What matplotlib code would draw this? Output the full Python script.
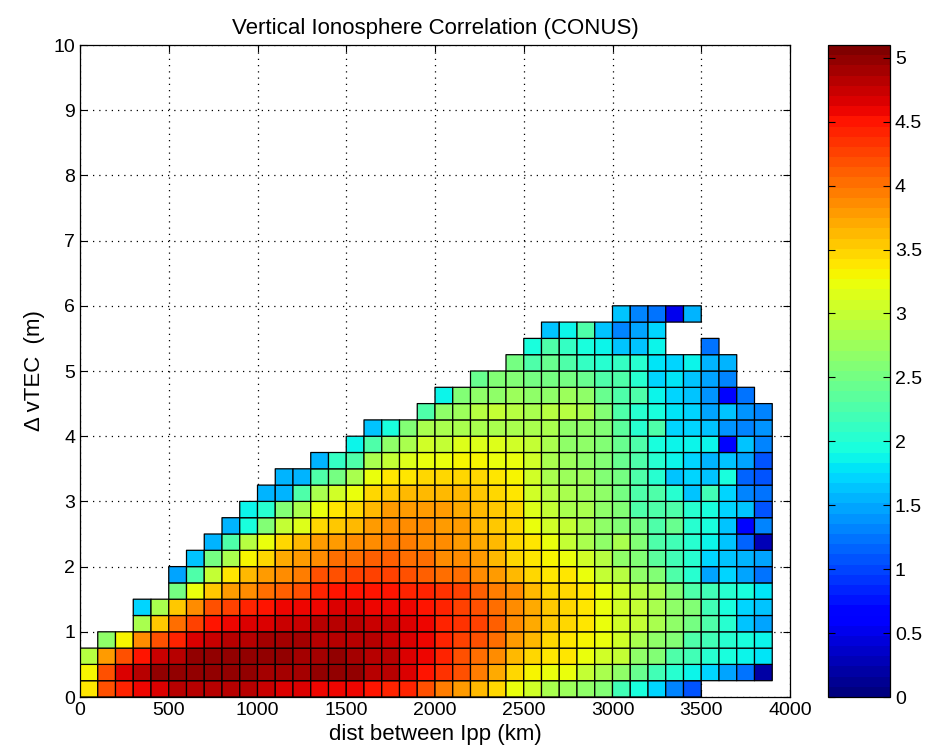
import numpy as np
import matplotlib
matplotlib.use("Agg")
import matplotlib.pyplot as plt
from matplotlib.ticker import FormatStrFormatter

plt.rcParams["font.family"] = ["Liberation Sans", "DejaVu Sans"]

N = None

# bin edges: distance between IPPs (km) and delta vTEC (m)
dist_edges = list(range(0, 4000, 100))          # 0 .. 3900
dvtec_edges = [i * 0.25 for i in range(25)]      # 0 .. 6.0

# cell values, one list per delta-vTEC band (bottom edge in the name), 39 distance bins each
dv_000 = [3.35, 4.2, 4.45, 4.6, 4.7, 4.8, 4.85, 4.8, 4.8, 4.8, 4.75, 4.7, 4.7, 4.6, 4.6, 4.55, 4.5, 4.45, 4.4, 4.2,
          3.95, 3.8, 3.65, 3.5, 3.25, 3.05, 2.85, 2.75, 2.7, 2.6, 2.2, 1.95, 1.7, 1.3, 1.05] + [N] * 4
dv_025 = [3.3, 4.2, 4.7, 4.85, 4.95, 5.0, 5.0, 5.0, 4.95, 4.95, 4.9, 4.9, 4.9, 4.95, 5.0, 4.95, 4.85, 4.8, 4.7, 4.5,
          4.35, 4.15, 3.95, 3.7, 3.45, 3.3, 3.2, 3.2, 3.0, 2.85, 2.65, 2.45, 2.2, 2.0, 1.9, 1.7, 1.5, 1.2, 0.2]
dv_050 = [2.9, 3.8, 4.2, 4.5, 4.75, 4.85, 4.95, 5.0, 5.0, 5.0, 4.95, 4.95, 4.9, 4.9, 4.95, 4.9, 4.85, 4.8, 4.7, 4.55,
          4.4, 4.2, 4.05, 3.85, 3.65, 3.5, 3.4, 3.35, 3.25, 3.1, 2.95, 2.7, 2.55, 2.3, 2.2, 2.0, 1.95, 1.9, 1.8]
dv_075 = [N, 2.65, 3.3, 3.85, 4.2, 4.4, 4.65, 4.75, 4.8, 4.85, 4.9, 4.9, 4.9, 4.85, 4.85, 4.85, 4.8, 4.75, 4.7, 4.55,
          4.45, 4.3, 4.2, 4.0, 3.75, 3.6, 3.5, 3.4, 3.3, 3.2, 3.05, 2.85, 2.7, 2.55, 2.3, 2.2, 2.0, 1.95, 1.85]
dv_100 = [N] * 3 + [2.85, 3.55, 4.0, 4.3, 4.5, 4.55, 4.65, 4.7, 4.75, 4.75, 4.8, 4.8, 4.8, 4.75, 4.75, 4.7, 4.55,
                    4.45, 4.35, 4.25, 4.1, 3.9, 3.7, 3.55, 3.45, 3.35, 3.25, 3.1, 2.95, 2.85, 2.65, 2.5, 2.25, 2.0,
                    1.65, 1.45]
dv_125 = [N] * 3 + [1.7, 2.85, 3.55, 3.9, 4.15, 4.3, 4.4, 4.5, 4.55, 4.55, 4.6, 4.65, 4.65, 4.6, 4.6, 4.55, 4.5,
                    4.4, 4.3, 4.15, 4.05, 3.9, 3.7, 3.55, 3.5, 3.35, 3.2, 3.1, 3.0, 2.85, 2.65, 2.55, 2.2, 1.95,
                    1.75, 1.6]
dv_150 = [N] * 5 + [2.5, 3.2, 3.55, 3.75, 3.9, 4.05, 4.1, 4.2, 4.4, 4.5, 4.5, 4.5, 4.5, 4.45, 4.4, 4.35, 4.25,
                    4.1, 3.95, 3.85, 3.65, 3.5, 3.45, 3.35, 3.2, 3.1, 2.9, 2.8, 2.6, 2.3, 2.2, 2.0, 1.95, 1.8]
dv_175 = [N] * 5 + [1.5, 2.3, 2.95, 3.4, 3.6, 3.75, 3.85, 3.95, 4.15, 4.2, 4.25, 4.25, 4.25, 4.15, 4.1, 4.05, 4.0,
                    3.9, 3.8, 3.65, 3.5, 3.4, 3.35, 3.25, 3.0, 2.9, 2.65, 2.6, 2.25, 2.0, 1.5, 1.7, 1.45, 1.2]
dv_200 = [N] * 6 + [1.6, 2.5, 2.85, 3.3, 3.5, 3.7, 3.8, 3.85, 4.0, 4.05, 4.1, 4.1, 4.0, 4.0, 3.9, 3.85, 3.8,
                    3.65, 3.5, 3.4, 3.3, 3.25, 3.1, 2.9, 2.65, 2.6, 2.35, 2.2, 2.0, 1.75, 1.6, 1.55, 1.5]
dv_225 = [N] * 7 + [1.55, 2.3, 2.9, 3.2, 3.45, 3.6, 3.75, 3.8, 3.85, 3.9, 3.95, 3.95, 3.9, 3.85, 3.8, 3.7, 3.6,
                    3.5, 3.35, 3.2, 3.0, 2.85, 2.7, 2.8, 2.55, 2.3, 2.2, 2.0, 1.85, 1.65, 1.15, 0.3]
dv_250 = [N] * 8 + [1.55, 1.95, 2.6, 3.0, 3.15, 3.45, 3.55, 3.65, 3.75, 3.85, 3.85, 3.85, 3.8, 3.75, 3.65, 3.55,
                    3.45, 3.25, 3.1, 2.95, 2.85, 2.7, 2.6, 2.5, 2.3, 2.45, 2.0, 1.95, 1.65, 0.7, 1.3]
dv_275 = [N] * 9 + [1.9, 2.0, 2.55, 2.85, 3.2, 3.35, 3.5, 3.65, 3.75, 3.75, 3.75, 3.75, 3.7, 3.6, 3.55, 3.45,
                    3.15, 3.0, 2.85, 2.8, 2.7, 2.6, 2.3, 2.3, 2.25, 2.0, 1.95, 1.7, 1.6, 1.05]
dv_300 = [N] * 10 + [1.55, 1.55, 2.25, 2.85, 3.05, 3.2, 3.45, 3.55, 3.6, 3.6, 3.65, 3.6, 3.55, 3.45, 3.35, 3.1,
                     2.9, 2.8, 2.75, 2.65, 2.5, 2.3, 2.25, 2.0, 1.6, 2.2, 1.7, 1.3, 1.25]
dv_325 = [N] * 11 + [1.55, 1.55, 2.25, 2.5, 2.85, 3.2, 3.35, 3.4, 3.45, 3.5, 3.5, 3.45, 3.4, 3.3, 3.1, 2.85,
                     2.75, 2.75, 2.6, 2.5, 2.3, 2.0, 1.65, 1.7, 1.6, 1.95, 1.15, 1.1]
dv_350 = [N] * 13 + [1.55, 2.1, 2.3, 2.8, 2.95, 3.15, 3.2, 3.25, 3.3, 3.3, 3.25, 3.2, 3.05, 2.8, 2.75, 2.7,
                     2.6, 2.45, 2.3, 2.0, 1.9, 1.75, 1.55, 1.65, 1.45, 1.1]
dv_375 = [N] * 15 + [1.9, 2.25, 2.7, 2.85, 3.05, 3.0, 3.15, 3.15, 3.15, 3.1, 3.0, 2.85, 2.7, 2.65, 2.6, 2.45,
                     2.3, 1.95, 1.9, 1.9, 1.85, 0.7, 1.6, 1.3]
dv_400 = [N] * 16 + [1.6, 1.95, 2.6, 2.8, 2.8, 2.85, 2.85, 2.85, 2.85, 2.8, 2.8, 2.7, 2.65, 2.6, 2.35, 2.0,
                     2.25, 1.7, 1.7, 1.6, 1.4, 1.35, 1.4]
dv_425 = [N] * 19 + [2.3, 2.7, 2.75, 2.9, 2.95, 2.9, 2.8, 2.9, 2.9, 2.85, 2.6, 2.3, 2.0, 1.95, 1.8, 1.7, 1.5,
                     1.6, 1.4, 1.35]
dv_450 = [N] * 20 + [1.9, 2.6, 2.7, 2.7, 2.75, 2.65, 2.7, 2.75, 2.65, 2.45, 2.3, 2.3, 1.9, 1.75, 1.6, 1.4, 0.7,
                     1.2, N]
dv_475 = [N] * 22 + [2.45, 2.6, 2.55, 2.5, 2.5, 2.5, 2.45, 2.3, 2.3, 2.05, 1.75, 1.8, 1.6, 1.45, 1.3, N, N]
dv_500 = [N] * 24 + [2.5, 2.3, 2.45, 2.3, 2.15, 2.0, 2.1, 2.0, 1.8, 1.7, 1.85, 1.55, 1.55, N, N]
dv_525 = [N] * 25 + [1.95, 2.25, 2.15, 1.95, 1.9, 1.6, 1.65, 1.85, N, N, 1.25, N, N, N]
dv_550 = [N] * 26 + [1.6, 1.9, 2.3, 1.65, 1.3, 1.5, 1.75] + [N] * 6
dv_575 = [N] * 30 + [1.6, 1.3, 1.25, 0.55, 1.55] + [N] * 4

bands = [dv_000, dv_025, dv_050, dv_075, dv_100, dv_125, dv_150, dv_175, dv_200, dv_225, dv_250, dv_275,
         dv_300, dv_325, dv_350, dv_375, dv_400, dv_425, dv_450, dv_475, dv_500, dv_525, dv_550, dv_575]

x_ticks = list(range(0, 4001, 500))
y_ticks = list(range(0, 11))
cbar_ticks = [i * 0.5 for i in range(11)]

grid = np.array([[np.nan if v is None else v for v in row] for row in bands], dtype=float)
grid = np.ma.masked_invalid(grid)

fig = plt.figure(figsize=(9.44, 7.52), dpi=100)
ax = fig.add_axes([80 / 944, 55 / 752, 710 / 944, 652 / 752])
cax = fig.add_axes([828 / 944, 55 / 752, 62 / 944, 652 / 752])

cmap = plt.get_cmap("jet", 64)
# pcolor drops masked cells completely, so empty bins get no outline
mesh = ax.pcolor(dist_edges, dvtec_edges, grid, cmap=cmap, vmin=0, vmax=5.1,
                 edgecolors="black", linewidth=0.9)

ax.set_xlim(0, 4000)
ax.set_ylim(0, 10)
ax.set_xticks(x_ticks)
ax.set_yticks(y_ticks)
ax.set_axisbelow(True)
ax.grid(True, color="black", linestyle=(0, (1, 4)), linewidth=0.9)
ax.tick_params(direction="in", top=True, right=True, length=5, labelsize=14)
for s in ax.spines.values():
    s.set_linewidth(0.9)

ax.set_title("Vertical Ionosphere Correlation (CONUS)", fontsize=16, pad=8)
ax.set_xlabel("dist between Ipp (km)", fontsize=16, labelpad=4)
ax.set_ylabel("\u0394 vTEC  (m)", fontsize=16, labelpad=6)

cb = fig.colorbar(mesh, cax=cax, ticks=cbar_ticks)
cb.outline.set_linewidth(0.9)
cax.yaxis.set_major_formatter(FormatStrFormatter("%g"))
cax.tick_params(direction="in", left=True, right=True, length=5, labelsize=14)

fig.savefig("out.png", dpi=100)
